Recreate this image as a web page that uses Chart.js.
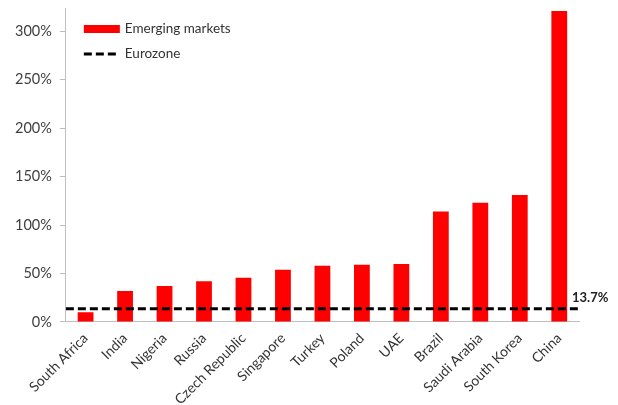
<!DOCTYPE html>
<html>
<head>
<meta charset="utf-8">
<script src="https://cdn.jsdelivr.net/npm/chart.js@4"></script>
<style>
  html, body { margin: 0; padding: 0; background: #fff; }
  #wrap { width: 618px; height: 405px; position: relative; }
</style>
</head>
<body>
<div id="wrap"><canvas id="c"></canvas></div>
<script>
const categories = ["South Africa", "India", "Nigeria", "Russia", "Czech Republic", "Singapore", "Turkey", "Poland", "UAE", "Brazil", "Saudi Arabia", "South Korea", "China"];
const emergingMarkets = [10, 32, 37, 42, 45.5, 54, 58, 59, 59.7, 114, 123, 131, 321];
const eurozone = 13.7;
const yTicks = [0, 50, 100, 150, 200, 250, 300];

const FONT = "Lato, 'Open Sans', sans-serif";

const extras = {
  id: 'extras',
  afterDatasetsDraw(chart) {
    const ctx = chart.ctx;
    const y = chart.scales.y;
    const area = chart.chartArea;
    ctx.save();
    ctx.font = "bold 13px " + FONT;
    ctx.fillStyle = "#222";
    ctx.textBaseline = "middle";
    ctx.textAlign = "left";
    ctx.fillText(eurozone.toFixed(1) + "%", area.right - 7, y.getPixelForValue(eurozone) - 11);
    const lx = area.left + 18, ly = area.top + 21;
    ctx.fillStyle = "#ff0000";
    ctx.fillRect(lx, ly - 4, 36, 8);
    ctx.strokeStyle = "#000";
    ctx.lineWidth = 3;
    ctx.setLineDash([8, 4]);
    ctx.beginPath();
    ctx.moveTo(lx, ly + 25);
    ctx.lineTo(lx + 36, ly + 25);
    ctx.stroke();
    ctx.setLineDash([]);
    ctx.font = "13.5px " + FONT;
    ctx.fillStyle = "#333";
    ctx.textBaseline = "middle";
    ctx.fillText(chart.data.datasets[0].label, lx + 41, ly);
    ctx.fillText(chart.data.datasets[1].label, lx + 41, ly + 25);
    ctx.restore();
  }
};

new Chart(document.getElementById('c'), {
  type: 'bar',
  data: {
    labels: categories,
    datasets: [
      {
        type: 'bar',
        label: 'Emerging markets',
        data: emergingMarkets,
        backgroundColor: '#ff0000',
        borderWidth: 0,
        grouped: false,
        categoryPercentage: 1.0,
        barPercentage: 0.4,
        order: 2
      },
      {
        type: 'line',
        label: 'Eurozone',
        data: [{x: 0, y: eurozone}, {x: 1, y: eurozone}],
        xAxisID: 'x2',
        borderColor: '#000',
        borderWidth: 3,
        borderDash: [8, 4],
        pointRadius: 0,
        fill: false,
        order: 1
      }
    ]
  },
  options: {
    responsive: true,
    maintainAspectRatio: false,
    animation: false,
    layout: { padding: { left: 7, right: 39, top: 8, bottom: -11 } },
    plugins: {
      legend: { display: false },
      tooltip: { enabled: false }
    },
    scales: {
      x: {
        type: 'category',
        offset: true,
        grid: { display: true, drawOnChartArea: false, drawTicks: false },
        border: { color: '#bfbfbf', width: 1 },
        ticks: {
          minRotation: 45, maxRotation: 45,
          color: '#333',
          font: { family: FONT, size: 14 },
          padding: 8
        }
      },
      x2: {
        type: 'linear',
        min: 0, max: 1,
        offset: false,
        grid: { offset: false },
        display: false
      },
      y: {
        min: 0, max: 324,
        grid: { display: true, drawOnChartArea: false, tickLength: 6, color: '#bfbfbf' },
        border: { color: '#bfbfbf', width: 1 },
        afterBuildTicks(scale) {
          scale.ticks = yTicks.map(v => ({ value: v }));
        },
        afterFit(scale) {
          scale.paddingTop = 0;
        },
        ticks: {
          color: '#404040',
          font: { family: FONT, size: 14.5 },
          padding: 8,
          callback: v => v + '%'
        }
      }
    }
  },
  plugins: [extras]
});
</script>
</body>
</html>
